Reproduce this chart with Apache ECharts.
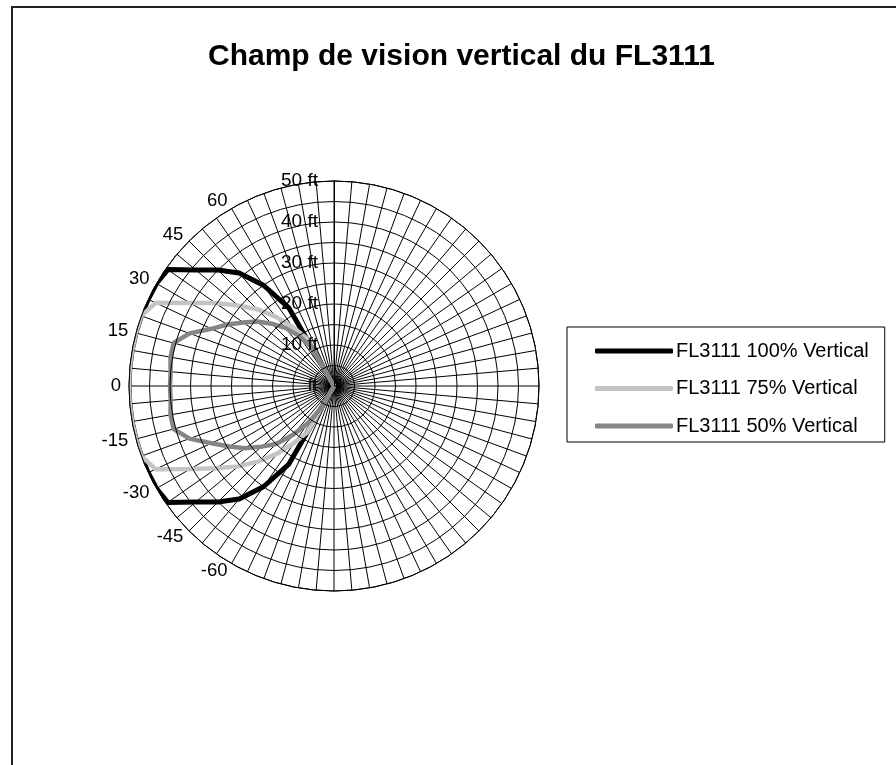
<!DOCTYPE html>
<html>
<head>
<meta charset="utf-8">
<script src="https://cdn.jsdelivr.net/npm/echarts@6/dist/echarts.min.js"></script>
<style>
html,body{margin:0;padding:0;background:#fff;overflow:hidden;}
#frame{position:absolute;left:11px;top:6px;width:1000px;height:1000px;border-left:2px solid #222;border-top:2px solid #222;}
#chart{position:absolute;left:0;top:0;width:896px;height:765px;}
</style>
</head>
<body>
<div id="frame"></div>
<div id="chart"></div>
<script>
// Vertical angle (degrees) of each radar category that carries data
const angles = [65, 60, 55, 50, 45, 40, 35, 30, 25, 20, 15, 10, 5, 0, -5, -10, -15, -20, -25, -30, -35, -40, -45, -50, -55, -60, -65];
// Distances (ft)
const full100 = [0, 22, 30, 36, 40, 44, 49.5, 50, 50, 50, 50, 50, 50, 50, 50, 50, 50, 50, 50, 50, 49.5, 44, 40, 36, 30, 22, 0];
const mid75   = [0, 13.5, 17.5, 22, 26.5, 30.5, 35.3, 40.5, 48, 50, 50, 50, 50, 50, 50, 50, 50, 50, 48, 40.5, 35, 30.5, 26, 21.5, 17, 13, 0];
const low50   = [0, 11, 15, 18.5, 21.5, 24.5, 27, 30, 33, 37.5, 40.5, 40.5, 40, 40, 40, 40.5, 40.5, 37.5, 33, 29.5, 26.5, 23, 20, 15.5, 11, 6, 0];
const seriesNames = ['FL3111 100% Vertical', 'FL3111 75% Vertical', 'FL3111 50% Vertical'];
const angleLabels = [60, 45, 30, 15, 0, -15, -30, -45, -60];
const radiusLabels = [0, 10, 20, 30, 40, 50];
const titleText = 'Champ de vision vertical du FL3111';

const toData = vals => angles.map((a, i) => [vals[i], 90 - a]);
const font = '"Liberation Sans", Arial, sans-serif';
const colors = ['#000000', '#c4c4c4', '#858585'];

const chart = echarts.init(document.getElementById('chart'), null, {renderer: 'canvas'});
chart.setOption({
  animation: false,
  backgroundColor: 'transparent',
  title: {
    text: titleText,
    left: 203, top: 37,
    textStyle: {fontFamily: font, fontSize: 30, fontWeight: 'bold', color: '#000'}
  },
  legend: {
    orient: 'vertical',
    left: 567, top: 327,
    data: seriesNames.map((n, i) => ({name: n, icon: 'roundRect', itemStyle: {color: colors[i]}})),
    borderColor: '#000', borderWidth: 1,
    padding: [14, 16, 6, 28],
    itemWidth: 78, itemHeight: 5,
    itemGap: 17.5,
    textStyle: {fontFamily: font, fontSize: 20, lineHeight: 20, color: '#000', padding: [0, 0, 0, -2]}
  },
  polar: {center: [334, 386], radius: 205},
  angleAxis: {
    type: 'value', min: 0, max: 360, interval: 5,
    startAngle: 90, clockwise: false,
    axisLine: {show: true, lineStyle: {color: '#000', width: 1}},
    axisTick: {show: false},
    splitLine: {show: true, lineStyle: {color: '#000', width: 1}},
    axisLabel: {
      show: true, margin: 8, lineHeight: 1,
      fontFamily: font, fontSize: 18.5, color: '#000',
      formatter: v => { const t = 90 - v; return angleLabels.indexOf(t) >= 0 ? String(t) : ''; }
    }
  },
  radiusAxis: {
    type: 'value', min: 0, max: 50, interval: 5,
    axisLine: {show: true, lineStyle: {color: '#000', width: 1}},
    axisTick: {show: false},
    splitLine: {show: true, lineStyle: {color: '#000', width: 1}},
    axisLabel: {
      show: true, margin: 16,
      fontFamily: font, fontSize: 19, color: '#000',
      formatter: v => radiusLabels.indexOf(v) >= 0 ? (v === 0 ? 'ft' : v + ' ft') : ''
    },
    z: 5
  },
  series: [
    {name: seriesNames[0], type: 'line', coordinateSystem: 'polar', data: toData(full100), symbol: 'none', smooth: false,
     lineStyle: {color: colors[0], width: 5}, itemStyle: {color: colors[0]}, z: 2},
    {name: seriesNames[1], type: 'line', coordinateSystem: 'polar', data: toData(mid75), symbol: 'none', smooth: false,
     lineStyle: {color: colors[1], width: 4.5}, itemStyle: {color: colors[1]}, z: 3},
    {name: seriesNames[2], type: 'line', coordinateSystem: 'polar', data: toData(low50), symbol: 'none', smooth: false,
     lineStyle: {color: colors[2], width: 4.5}, itemStyle: {color: colors[2]}, z: 4}
  ]
});
</script>
</body>
</html>
